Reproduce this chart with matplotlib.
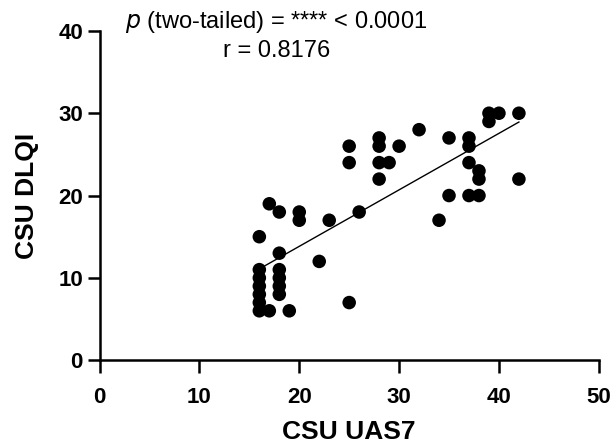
import numpy as np
from matplotlib import pyplot as plt

plt.rcParams["font.family"] = ["Liberation Sans", "DejaVu Sans"]

# CSU UAS7 (x) vs CSU DLQI (y)
uas7 = [16, 16, 16, 16, 16, 16, 16,
        17, 17,
        18, 18, 18, 18, 18, 18,
        19,
        20, 20,
        22,
        23,
        25, 25, 25,
        26,
        28, 28, 28, 28,
        29,
        30,
        32,
        34,
        35, 35,
        37, 37, 37, 37,
        38, 38, 38,
        39, 39,
        40,
        42, 42]
dlqi = [6, 7, 8, 9, 10, 11, 15,
        6, 19,
        8, 9, 10, 11, 13, 18,
        6,
        17, 18,
        12,
        17,
        7, 24, 26,
        18,
        22, 24, 26, 27,
        24,
        26,
        28,
        17,
        20, 27,
        20, 24, 26, 27,
        20, 22, 23,
        29, 30,
        30,
        22, 30]

x = np.array(uas7, dtype=float)
y = np.array(dlqi, dtype=float)
slope, intercept = np.polyfit(x, y, 1)
xfit = np.array([x.min(), x.max()])

fig = plt.figure(figsize=(6.11, 4.48), dpi=100)
ax = fig.add_axes([0.163, 0.196, 0.817, 0.735])

ax.scatter(x, y, s=95, color="black", edgecolors="none", zorder=3, clip_on=False)
ax.plot(xfit, slope * xfit + intercept, color="black", linewidth=1.0, zorder=2)

ax.set_xlim(0, 50)
ax.set_ylim(0, 40)
ax.set_xticks([0, 10, 20, 30, 40, 50])
ax.set_yticks([0, 10, 20, 30, 40])

for side in ["top", "right"]:
    ax.spines[side].set_visible(False)
for side in ["left", "bottom"]:
    ax.spines[side].set_linewidth(1.8)
ax.tick_params(direction="out", length=9, width=1.8, labelsize=16)
ax.tick_params(axis="x", pad=10)
ax.tick_params(axis="y", pad=3)
for lab in ax.get_xticklabels() + ax.get_yticklabels():
    lab.set_fontweight("bold")

ax.set_xlabel("CSU UAS7", fontsize=19, fontweight="bold", labelpad=9)
ax.set_ylabel("CSU DLQI", fontsize=19, fontweight="bold", labelpad=14)

ax.text(0.354, 1.067, "$\\it{p}$ (two-tailed) = **** < 0.0001\nr = 0.8176",
        transform=ax.transAxes, ha="center", va="top", fontsize=17,
        linespacing=1.3)

fig.savefig("out.png", dpi=100)
